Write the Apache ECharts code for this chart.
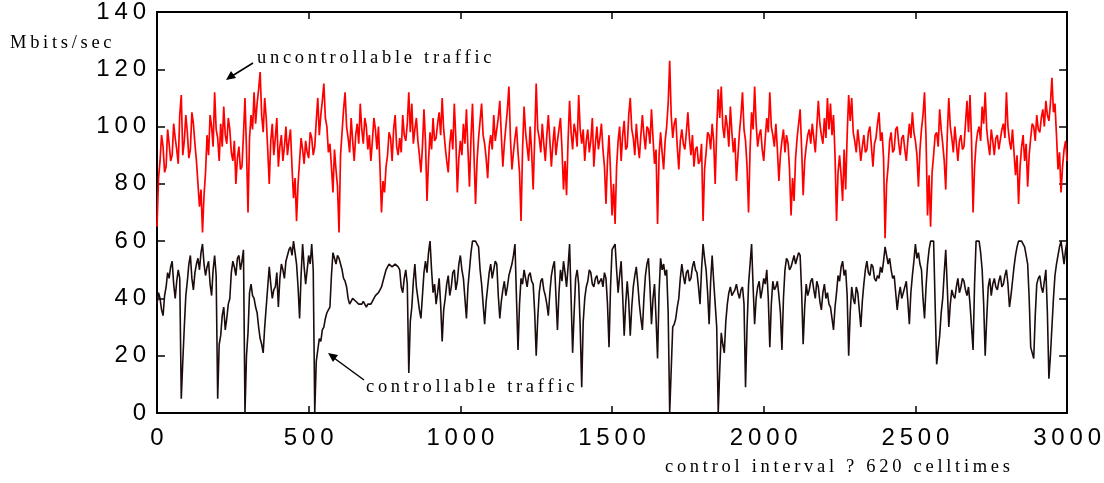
<!DOCTYPE html>
<html><head><meta charset="utf-8">
<script src="https://cdn.jsdelivr.net/npm/echarts@6/dist/echarts.min.js"></script>
<style>html,body{margin:0;padding:0;background:#fff}#c{width:1104px;height:483px}</style>
</head><body><div id="c"></div>
<script>
// control intervals sampled every 5 units, 0..3000
const stepSize = 5;
const xTicks = [0, 500, 1000, 1500, 2000, 2500, 3000];
const yTicks = [0, 20, 40, 60, 80, 100, 120, 140];

const uncontrollable = [
 65, 82, 88, 97, 93, 84, 86, 99, 94, 88, 90, 101, 96, 92, 87, 104, 111, 90, 95, 104,
 98, 89, 92, 105, 101, 94, 88, 80, 72, 78, 63, 76, 84, 97, 90, 104, 100, 93, 112, 99,
 96, 88, 101, 93, 107, 97, 94, 103, 99, 91, 88, 95, 80, 89, 93, 85, 86, 97, 110, 92,
 70, 96, 104, 99, 112, 101, 108, 113, 119, 104, 98, 110, 103, 92, 80, 95, 101, 90, 96, 103,
 86, 93, 97, 88, 93, 100, 90, 95, 99, 86, 75, 82, 67, 80, 88, 96, 92, 87, 95, 91,
 89, 98, 96, 90, 93, 102, 110, 97, 104, 109, 115, 103, 100, 91, 94, 86, 77, 92, 85, 79,
 63, 90, 98, 106, 112, 100, 96, 91, 103, 95, 88, 97, 101, 94, 108, 99, 94, 103, 100, 92,
 97, 88, 95, 103, 99, 92, 100, 86, 70, 81, 77, 86, 90, 98, 96, 88, 99, 104, 93, 90,
 96, 91, 104, 97, 95, 101, 112, 98, 108, 94, 99, 103, 95, 90, 84, 93, 106, 95, 74, 88,
 98, 92, 103, 95, 96, 101, 105, 97, 110, 99, 93, 88, 84, 94, 99, 92, 108, 96, 77, 89,
 95, 90, 101, 94, 106, 92, 79, 96, 108, 90, 73, 88, 96, 102, 108, 97, 94, 89, 82, 93,
 97, 92, 104, 95, 99, 103, 109, 97, 86, 94, 100, 106, 114, 96, 85, 91, 96, 100, 91, 84,
 67, 92, 107, 98, 93, 88, 100, 91, 78, 96, 115, 99, 96, 91, 101, 94, 88, 97, 104, 95,
 86, 94, 100, 90, 95, 99, 103, 92, 78, 88, 76, 95, 109, 98, 92, 101, 98, 93, 111, 99,
 94, 99, 88, 95, 99, 91, 95, 103, 86, 94, 100, 92, 96, 101, 92, 86, 73, 88, 97, 84,
 69, 80, 66, 86, 95, 100, 88, 97, 102, 92, 93, 104, 110, 99, 96, 90, 101, 94, 89, 97,
 104, 97, 92, 100, 99, 94, 106, 96, 87, 92, 66, 90, 98, 91, 85, 95, 100, 108, 123, 104,
 96, 101, 103, 93, 85, 95, 99, 94, 92, 98, 105, 96, 90, 97, 86, 92, 93, 87, 88, 94,
 67, 85, 91, 98, 97, 92, 101, 95, 80, 99, 113, 103, 114, 100, 96, 104, 100, 93, 107, 98,
 91, 96, 81, 90, 98, 104, 112, 99, 95, 86, 70, 92, 105, 99, 114, 101, 93, 97, 99, 92,
 88, 96, 103, 98, 112, 100, 97, 93, 101, 92, 81, 90, 95, 99, 91, 97, 94, 85, 69, 82,
 74, 89, 96, 101, 106, 92, 76, 88, 93, 97, 99, 94, 101, 96, 91, 100, 109, 101, 97, 94,
 103, 96, 110, 99, 108, 97, 104, 90, 67, 84, 90, 83, 74, 92, 78, 97, 111, 102, 110, 98,
 95, 91, 99, 94, 88, 93, 97, 91, 92, 98, 100, 93, 86, 94, 96, 101, 105, 95, 98, 89,
 61, 80, 86, 95, 98, 91, 92, 99, 100, 94, 90, 96, 97, 92, 88, 95, 101, 96, 105, 98,
 95, 90, 79, 92, 99, 104, 112, 96, 69, 83, 65, 84, 90, 97, 98, 93, 106, 99, 94, 88,
 78, 97, 110, 100, 96, 91, 100, 94, 88, 95, 97, 92, 93, 101, 109, 98, 111, 95, 70, 86,
 94, 98, 100, 95, 107, 101, 112, 99, 94, 90, 99, 95, 90, 96, 97, 92, 92, 99, 101, 96,
 112, 100, 95, 92, 99, 91, 83, 90, 73, 86, 93, 97, 88, 94, 79, 90, 96, 101, 100, 95,
 104, 99, 98, 103, 106, 100, 109, 104, 102, 108, 117, 105, 108, 97, 85, 91, 77, 86, 92, 95,
 88
];

const controllable = [
 38, 42, 40, 36, 34, 41, 44, 49, 47, 51, 53, 45, 40, 46, 50, 47, 5, 18, 30, 41,
 46, 52, 55, 47, 43, 49, 52, 54, 50, 56, 59, 52, 48, 51, 53, 45, 41, 50, 55, 48,
 5, 24, 27, 34, 37, 29, 33, 38, 40, 49, 53, 51, 48, 54, 55, 50, 53, 57, 0, 20,
 28, 42, 45, 41, 40, 37, 35, 30, 26, 24, 21, 30, 37, 44, 51, 45, 40, 43, 44, 49,
 37, 47, 52, 50, 47, 53, 55, 57, 58, 55, 60, 56, 52, 44, 33, 48, 59, 51, 45, 50,
 55, 52, 59, 50, 0, 18, 22, 26, 25, 29, 30, 33, 35, 36, 37, 48, 56, 54, 52, 55,
 54, 52, 50, 47, 46, 44, 40, 38, 38, 40, 40, 39, 39, 38, 38, 38, 39, 38, 37, 38,
 38, 38, 39, 40, 41, 41, 42, 43, 44, 46, 48, 50, 51, 52, 52, 51, 51, 52, 52, 51,
 50, 44, 42, 47, 50, 45, 14, 32, 37, 46, 52, 44, 40, 36, 33, 41, 49, 53, 49, 56,
 60, 50, 42, 45, 38, 42, 47, 38, 25, 36, 40, 45, 48, 41, 44, 49, 50, 43, 46, 52,
 55, 50, 47, 40, 33, 44, 50, 56, 60, 60, 60, 59, 58, 50, 45, 38, 31, 39, 44, 49,
 52, 47, 50, 53, 52, 41, 33, 39, 43, 46, 41, 44, 48, 50, 52, 55, 59, 40, 22, 38,
 47, 45, 50, 47, 44, 48, 49, 46, 45, 35, 20, 33, 42, 46, 47, 43, 41, 38, 34, 42,
 48, 51, 53, 41, 29, 42, 50, 46, 53, 49, 44, 51, 59, 40, 21, 35, 47, 50, 45, 30,
 9, 32, 40, 44, 46, 50, 49, 45, 44, 47, 48, 45, 45, 47, 44, 49, 47, 38, 23, 44,
 57, 58, 59, 50, 42, 48, 53, 41, 27, 38, 46, 39, 27, 37, 44, 48, 51, 45, 38, 33,
 29, 40, 48, 52, 54, 44, 31, 40, 45, 33, 19, 42, 54, 50, 52, 48, 50, 35, 0, 15,
 30, 31, 33, 37, 40, 47, 52, 48, 45, 49, 50, 46, 47, 51, 53, 50, 49, 44, 38, 50,
 59, 54, 50, 42, 31, 46, 55, 46, 38, 30, 0, 15, 28, 24, 21, 32, 38, 42, 44, 41,
 41, 43, 45, 42, 40, 43, 44, 38, 9, 30, 45, 52, 59, 44, 31, 40, 44, 46, 40, 43,
 47, 45, 50, 40, 23, 38, 46, 43, 44, 46, 41, 35, 22, 40, 50, 54, 53, 50, 51, 53,
 55, 52, 54, 56, 55, 42, 24, 37, 45, 41, 43, 46, 47, 43, 40, 46, 44, 39, 36, 42,
 45, 40, 42, 38, 37, 33, 29, 37, 42, 48, 46, 51, 53, 48, 50, 41, 20, 35, 44, 40,
 38, 44, 42, 36, 30, 39, 45, 50, 53, 49, 48, 52, 51, 47, 46, 48, 47, 51, 49, 53,
 58, 55, 52, 54, 50, 47, 48, 42, 36, 41, 44, 40, 40, 44, 46, 39, 31, 42, 48, 53,
 59, 54, 56, 52, 50, 40, 33, 44, 52, 57, 60, 60, 60, 38, 17, 22, 27, 35, 40, 49,
 57, 44, 30, 38, 43, 41, 40, 44, 47, 42, 44, 47, 46, 43, 41, 44, 38, 30, 22, 45,
 60, 60, 60, 56, 50, 38, 20, 33, 44, 47, 41, 45, 47, 44, 43, 46, 48, 44, 45, 48,
 50, 45, 37, 41, 46, 51, 55, 58, 60, 60, 60, 59, 58, 55, 52, 40, 23, 21, 19, 34,
 45, 47, 48, 44, 42, 46, 50, 35, 12, 20, 30, 40, 48, 52, 55, 58, 60, 56, 52, 57,
 60
];

const yLabel = 'Mbits/sec';
const redLabel = 'uncontrollable traffic';
const blackLabel = 'controllable traffic';
const xLabel = 'control interval ? 620 celltimes';

function spaced(s) { return String(s).split('').join('\u2009'); }
const pairs = arr => arr.map((v, i) => [i * stepSize, v]);

const chart = echarts.init(document.getElementById('c'), null, {renderer: 'canvas'});
const axisFont = {fontFamily: '"Liberation Sans", Arial, sans-serif', fontSize: 24, color: '#000'};
const serifText = {fontFamily: '"Liberation Serif", "Times New Roman", serif', fontSize: 18.5, fill: '#000'};

chart.setOption({
  animation: false,
  backgroundColor: '#fff',
  grid: {left: 157, right: 36, top: 12, bottom: 70, show: false},
  xAxis: [
    {type: 'value', position: 'bottom', min: xTicks[0], max: xTicks[xTicks.length - 1], interval: 500,
     axisLine: {show: true, onZero: false, lineStyle: {color: '#000', width: 2}},
     axisTick: {show: true, inside: true, length: 7, lineStyle: {color: '#000', width: 1.5}},
     axisLabel: Object.assign({margin: 13, formatter: v => spaced(v)}, axisFont),
     splitLine: {show: false}},
    {type: 'value', position: 'top', min: xTicks[0], max: xTicks[xTicks.length - 1], interval: 500,
     axisLine: {show: true, onZero: false, lineStyle: {color: '#000', width: 2}},
     axisTick: {show: true, inside: true, length: 7, lineStyle: {color: '#000', width: 1.5}},
     axisLabel: {show: false}, splitLine: {show: false}}
  ],
  yAxis: [
    {type: 'value', position: 'left', min: yTicks[0], max: yTicks[yTicks.length - 1], interval: 20,
     axisLine: {show: true, onZero: false, lineStyle: {color: '#000', width: 2}},
     axisTick: {show: true, inside: true, length: 8, lineStyle: {color: '#000', width: 1.5}},
     axisLabel: Object.assign({margin: 11, padding: [6, 0, 0, 0], formatter: v => spaced(v)}, axisFont),
     splitLine: {show: false}},
    {type: 'value', position: 'right', min: yTicks[0], max: yTicks[yTicks.length - 1], interval: 20,
     axisLine: {show: true, onZero: false, lineStyle: {color: '#000', width: 2}},
     axisTick: {show: true, inside: true, length: 8, lineStyle: {color: '#000', width: 1.5}},
     axisLabel: {show: false}, splitLine: {show: false}}
  ],
  series: [
    {name: blackLabel, type: 'line', data: pairs(controllable), showSymbol: false, symbol: 'none',
     lineStyle: {color: '#1c0c0c', width: 1.6}, z: 3},
    {name: redLabel, type: 'line', data: pairs(uncontrollable), showSymbol: false, symbol: 'none',
     lineStyle: {color: '#ff0000', width: 1.7}, z: 4}
  ],
  graphic: [
    {type: 'text', left: 10, top: 34, style: Object.assign({text: spaced(yLabel)}, serifText)},
    {type: 'text', left: 257, top: 49, style: Object.assign({text: spaced(redLabel)}, serifText)},
    {type: 'text', left: 366, top: 378, style: Object.assign({text: spaced(blackLabel)}, serifText)},
    {type: 'text', left: 665, top: 458, style: Object.assign({text: spaced(xLabel)}, serifText)},
    {type: 'line', shape: {x1: 253, y1: 63, x2: 232, y2: 76}, style: {stroke: '#000', lineWidth: 1.5}},
    {type: 'polygon', shape: {points: [[226, 80], [231, 71], [236, 78]]}, style: {fill: '#000'}},
    {type: 'line', shape: {x1: 364, y1: 380, x2: 334, y2: 358}, style: {stroke: '#000', lineWidth: 1.5}},
    {type: 'polygon', shape: {points: [[328, 353], [338, 355], [333, 362]]}, style: {fill: '#000'}}
  ]
});
</script></body></html>
